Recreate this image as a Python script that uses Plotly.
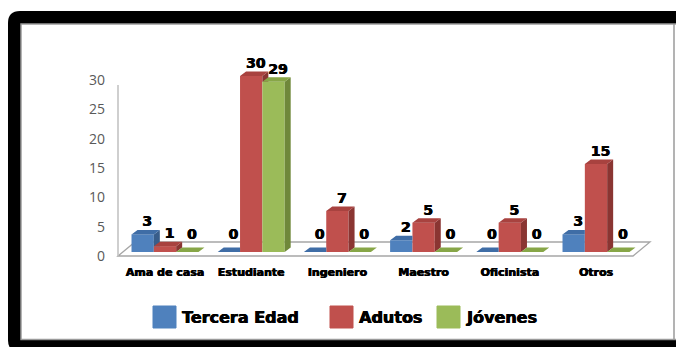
import plotly.graph_objects as go

# ---- data -------------------------------------------------------------
categories = ["Ama de casa", "Estudiante", "Ingeniero", "Maestro", "Oficinista", "Otros"]
series_names = ["Tercera Edad", "Adutos", "Jóvenes"]
tercera_edad = [3, 0, 0, 2, 0, 3]
adultos = [1, 30, 7, 5, 5, 15]
jovenes = [0, 29, 0, 0, 0, 0]
y_ticks = [0, 5, 10, 15, 20, 25, 30]

series_values = [tercera_edad, adultos, jovenes]

# ---- styling ----------------------------------------------------------
W, H = 676, 347
front_col = ["#4F81BD", "#C0504D", "#9BBB59"]
top_col = ["#3F6DA6", "#A8423F", "#87A647"]
side_col = ["#385D8A", "#8A3532", "#6F883A"]
HEAVY = "DejaVu Sans"
THICK = "0.5px 0px 0px #000000, -0.3px 0px 0px #000000"   # extra stroke weight

# pixel scale of the plotting area (category step and units per pixel)
X0, XS = 165.0, 86.2      # x pixel of category 0, pixels per category
Y0, YS = 252.0, 5.87      # y pixel of value 0, pixels per unit


def dx_px(p):
    return p / XS


def dy_px(p):
    return p / YS


def x_of(px):
    return (px - X0) / XS


def y_of(py):
    return (Y0 - py) / YS


GROUP = 0.777                 # share of a category taken by the three bars
BW = GROUP / 3                # bar width (category units)
DEPTH_X, DEPTH_Y = dx_px(6), dy_px(4.5)   # oblique depth of each column

# floor of the 3-D box
FLOOR_FRONT_Y = y_of(256)
FLOOR_X0, FLOOR_X1 = x_of(118), x_of(633)
FLOOR_DX, FLOOR_DY = dx_px(17), dy_px(14)
FLOOR_BACK_Y = FLOOR_FRONT_Y + FLOOR_DY

x_range = [x_of(110), x_of(670)]
y_range = [y_of(264), y_of(52)]


def clip_half(poly, test, cut):
    out = []
    n = len(poly)
    for i in range(n):
        p, q = poly[i], poly[(i + 1) % n]
        pin, qin = test(p), test(q)
        if pin:
            out.append(p)
        if pin != qin:
            out.append(cut(p, q))
    return out


def keep_above(poly, c):
    def cut(p, q):
        t = (c - p[1]) / (q[1] - p[1])
        return (p[0] + t * (q[0] - p[0]), c)
    return clip_half(poly, lambda p: p[1] >= c - 1e-9, cut)


def keep_left(poly, c):
    def cut(p, q):
        t = (c - p[0]) / (q[0] - p[0])
        return (c, p[1] + t * (q[1] - p[1]))
    return clip_half(poly, lambda p: p[0] <= c + 1e-9, cut)


def area(poly):
    if len(poly) < 3:
        return 0.0
    s = 0.0
    for i in range(len(poly)):
        x1, y1 = poly[i]
        x2, y2 = poly[(i + 1) % len(poly)]
        s += x1 * y2 - x2 * y1
    return abs(s) / 2


def polys_to_xy(polys):
    xs, ys = [], []
    for poly in polys:
        if area(poly) < 1e-6:
            continue
        for (x, y) in poly:
            xs.append(x)
            ys.append(y)
        xs.append(poly[0][0])
        ys.append(poly[0][1])
        xs.append(None)
        ys.append(None)
    return xs, ys


fig = go.Figure()

# front faces of the columns
for s, (name, vals) in enumerate(zip(series_names, series_values)):
    fig.add_trace(go.Bar(
        x=list(range(len(categories))), y=vals, name=name,
        width=BW, offset=-GROUP / 2 + s * BW,
        marker=dict(color=front_col[s], line=dict(width=0)),
        showlegend=False, cliponaxis=False,
    ))

# side and top faces, trimmed where the next column hides them
for s, vals in enumerate(series_values):
    side_polys, top_polys = [], []
    for i, v in enumerate(vals):
        xl = i - GROUP / 2 + s * BW
        xr = xl + BW
        side = [(xr, 0), (xr + DEPTH_X, DEPTH_Y), (xr + DEPTH_X, v + DEPTH_Y), (xr, v)]
        top = [(xl, v), (xl + DEPTH_X, v + DEPTH_Y), (xr + DEPTH_X, v + DEPTH_Y), (xr, v)]
        if s < len(series_values) - 1:
            vn = series_values[s + 1][i]
            side_polys.append(keep_above(side, vn))
            if vn > v:
                top_polys.append(keep_left(top, xr))
                top_polys.append(keep_above(top, vn))
            else:
                top_polys.append(top)
        else:
            side_polys.append(side)
            top_polys.append(top)
    for polys, col in ((side_polys, side_col[s]), (top_polys, top_col[s])):
        xs, ys = polys_to_xy(polys)
        fig.add_trace(go.Scatter(
            x=xs, y=ys, mode="lines", fill="toself", fillcolor=col,
            line=dict(width=0, color=col), hoverinfo="skip", showlegend=False,
        ))

# value labels above each column
for s, vals in enumerate(series_values):
    xs = [i - GROUP / 2 + (s + 0.5) * BW + DEPTH_X * 0.75 for i in range(len(vals))]
    ys = [max(v + DEPTH_Y, FLOOR_BACK_Y) for v in vals]
    fig.add_trace(go.Scatter(
        x=xs, y=ys, mode="text", text=[str(v) for v in vals],
        textposition="top center",
        textfont=dict(family=HEAVY, size=14, color="#000000", weight="bold",
                      shadow=THICK),
        hoverinfo="skip", showlegend=False, cliponaxis=False,
    ))


def P(px, py):
    return f"{px / W:.5f},{1 - py / H:.5f}"


shapes = []
# dark rounded frame around the chart
shapes.append(dict(
    type="path", xref="paper", yref="paper", layer="below",
    path=(f"M{P(20, 11)} L{P(700, 11)} L{P(700, 352)} L{P(20, 352)} "
          f"Q{P(8, 352)} {P(8, 340)} L{P(8, 23)} Q{P(8, 11)} {P(20, 11)} Z"),
    fillcolor="#000000", line=dict(width=0),
))
shapes.append(dict(
    type="rect", xref="paper", yref="paper", layer="below",
    x0=21 / W, x1=690 / W, y0=1 - 339.5 / H, y1=1 - 24 / H,
    fillcolor="#FFFFFF", line=dict(color="#9A9A9A", width=1.5),
))
shapes.append(dict(
    type="line", xref="paper", yref="paper", layer="below",
    x0=674 / W, x1=674 / W, y0=1 - 339.5 / H, y1=1 - 24 / H,
    line=dict(color="#9A9A9A", width=1.5),
))
# floor of the 3-D plot
fb0 = FLOOR_X0 + FLOOR_DX
fb1 = FLOOR_X1 + FLOOR_DX
shapes.append(dict(
    type="path", xref="x", yref="y", layer="below",
    path=(f"M{FLOOR_X0},{FLOOR_FRONT_Y} L{FLOOR_X1},{FLOOR_FRONT_Y} "
          f"L{fb1},{FLOOR_BACK_Y} L{fb0},{FLOOR_BACK_Y} Z"),
    fillcolor="#FFFFFF", line=dict(color="#A6A6A6", width=1.3),
))
# vertical value axis
shapes.append(dict(
    type="line", xref="x", yref="y", layer="below",
    x0=FLOOR_X0, x1=FLOOR_X0, y0=FLOOR_FRONT_Y, y1=y_of(85),
    line=dict(color="#BFBFBF", width=1.5),
))

# legend swatches and names
legend_x = [153, 330, 437]
annotations = []
for s, name in enumerate(series_names):
    x0 = legend_x[s]
    shapes.append(dict(
        type="rect", xref="paper", yref="paper",
        x0=x0 / W, x1=(x0 + 23) / W, y0=1 - 328 / H, y1=1 - 306 / H,
        fillcolor=front_col[s], line=dict(color=front_col[s], width=1),
    ))
    annotations.append(dict(
        x=(x0 + 27) / W, y=1 - 317 / H, xref="paper", yref="paper",
        text=name, showarrow=False, xanchor="left", yanchor="middle",
        font=dict(family=HEAVY, size=16, color="#000000", weight="bold",
                  shadow=THICK),
    ))

fig.update_layout(
    width=W, height=H,
    margin=dict(l=0, r=0, t=0, b=0),
    paper_bgcolor="#FFFFFF",
    plot_bgcolor="rgba(0,0,0,0)",
    barmode="overlay",
    showlegend=False,
    shapes=shapes,
    annotations=annotations,
    xaxis=dict(
        domain=[110 / W, 670 / W], range=x_range,
        tickmode="array", tickvals=list(range(len(categories))), ticktext=categories,
        showgrid=False, zeroline=False, showline=False, ticks="",
        tickfont=dict(family=HEAVY, size=11, color="#000000", weight="bold",
                      shadow=THICK),
    ),
    yaxis=dict(
        domain=[1 - 264 / H, 1 - 52 / H], range=y_range,
        tickmode="array", tickvals=y_ticks,
        showgrid=False, zeroline=False, showline=False, ticks="",
        ticklabelshift=4, ticklabelstandoff=4,
        tickfont=dict(family="Open Sans", size=14, color="#595959"),
    ),
)

fig.write_html("out.html")
